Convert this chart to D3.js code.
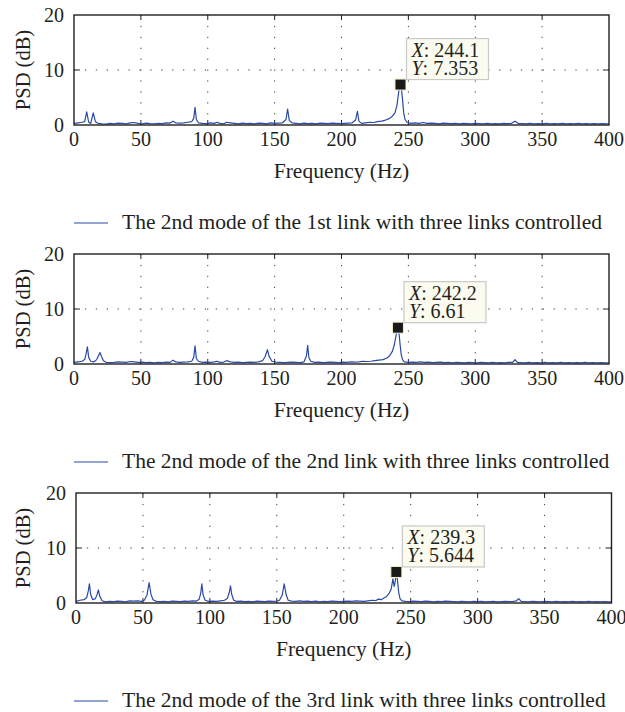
<!DOCTYPE html>
<html>
<head>
<meta charset="utf-8">
<script src="https://cdn.jsdelivr.net/npm/d3@7"></script>
<style>
  body { margin: 0; background: #fff; }
  text { font-family: "Liberation Serif", "DejaVu Serif", serif; fill: #231f20; }
</style>
</head>
<body>
<script>
// tick values shared by the three panels
const xTicks = [0, 50, 100, 150, 200, 250, 300, 350, 400]
const yTicks = [0, 10, 20]

// PSD of the 2nd mode, 1st link  [frequency Hz, PSD dB]
const psdLink1 = [[0,0.3],[3,0.4],[6,0.5],[8,0.6],[9.5,2.4],[11,0.5],[12.5,0.3],[14.4,2.2],[16,0.6],[18,0.3],[21,0.2],[24,0.15],[27,0.3],[30,0.2],[33,0.35],[36,0.3],[39,0.2],[42,0.4],[45,0.45],[48,0.3],[51,0.2],[54,0.35],[57,0.25],[60,0.2],[63,0.3],[66,0.25],[69,0.4],[72,0.35],[74,0.7],[76,0.4],[79,0.35],[82,0.4],[85,0.5],[88,0.6],[89.5,1.2],[90.5,3.2],[91.5,1.0],[93,0.4],[96,0.3],[99,0.25],[102,0.4],[105,0.3],[107,0.5],[109,0.3],[112,0.2],[114,0.5],[117,0.4],[120,0.3],[123,0.2],[126,0.35],[129,0.25],[132,0.3],[135,0.2],[138,0.35],[141,0.3],[144,0.2],[147,0.4],[150,0.3],[153,0.35],[156,0.4],[158.5,1.0],[159.7,2.9],[161,0.8],[163,0.4],[166,0.3],[169,0.2],[172,0.35],[175,0.25],[178,0.3],[181,0.2],[184,0.35],[187,0.3],[190,0.25],[193,0.35],[196,0.3],[199,0.25],[202,0.3],[205,0.35],[208,0.4],[210.5,0.9],[211.9,2.5],[213,0.7],[215,0.3],[218,0.4],[221,0.5],[224,0.45],[227,0.6],[230,0.7],[233,0.9],[236,1.2],[238,1.6],[240,2.2],[241.5,3.6],[242.5,5.5],[243.3,6.9],[244.1,7.353],[245,6.2],[245.8,4.2],[246.5,2.2],[247.5,1.0],[249,0.5],[252,0.3],[255,0.4],[258,0.3],[261,0.45],[264,0.3],[267,0.35],[270,0.3],[273,0.2],[276,0.35],[279,0.3],[282,0.25],[285,0.3],[288,0.2],[291,0.3],[294,0.25],[297,0.2],[300,0.3],[303,0.25],[306,0.2],[309,0.3],[312,0.2],[315,0.25],[318,0.2],[321,0.3],[324,0.25],[327,0.3],[329.7,0.7],[332,0.3],[335,0.25],[338,0.2],[341,0.3],[344,0.2],[347,0.25],[350,0.2],[353,0.3],[356,0.2],[359,0.25],[362,0.2],[365,0.3],[368,0.2],[371,0.25],[374,0.2],[377,0.3],[380,0.2],[383,0.25],[386,0.2],[389,0.25],[392,0.2],[395,0.25],[398,0.2],[400,0.2]]

// PSD of the 2nd mode, 2nd link
const psdLink2 = [[0,0.3],[3,0.4],[6,0.5],[8,0.8],[9,1.8],[10,3.1],[11,1.2],[12.5,0.5],[15,0.4],[17,0.8],[18.5,1.6],[19.4,2.1],[20.5,1.4],[22,0.6],[24,0.3],[27,0.25],[30,0.3],[33,0.4],[36,0.35],[39,0.3],[42,0.45],[45,0.4],[48,0.3],[51,0.35],[54,0.25],[57,0.3],[60,0.2],[63,0.3],[66,0.25],[69,0.35],[72,0.3],[74,0.7],[76,0.4],[79,0.3],[82,0.35],[85,0.4],[88,0.5],[89.5,1.2],[90.5,3.3],[91.5,1.0],[93,0.5],[96,0.3],[99,0.35],[102,0.3],[105,0.4],[107,0.5],[109,0.3],[112,0.35],[114,0.6],[117,0.4],[120,0.3],[123,0.35],[126,0.25],[129,0.3],[132,0.35],[135,0.3],[138,0.4],[141,0.6],[143,1.4],[144.6,2.6],[146,1.3],[148,0.5],[151,0.35],[154,0.3],[157,0.25],[160,0.3],[163,0.35],[166,0.3],[169,0.25],[172,0.4],[173.8,1.5],[174.7,3.4],[175.6,1.2],[177,0.5],[180,0.3],[183,0.35],[186,0.25],[189,0.3],[192,0.35],[195,0.3],[198,0.25],[201,0.35],[204,0.3],[207,0.4],[210,0.35],[213,0.4],[216,0.5],[219,0.45],[222,0.5],[225,0.6],[228,0.7],[231,0.8],[234,1.1],[236,1.5],[238,2.3],[239.5,3.5],[240.5,4.8],[241.4,6.0],[242.2,6.61],[243,5.6],[243.8,3.6],[244.6,1.8],[245.6,0.8],[247,0.4],[250,0.3],[253,0.35],[256,0.3],[259,0.4],[262,0.3],[265,0.35],[268,0.25],[271,0.3],[274,0.35],[277,0.25],[280,0.3],[283,0.2],[286,0.3],[289,0.25],[292,0.2],[295,0.3],[298,0.25],[301,0.2],[304,0.3],[307,0.25],[310,0.2],[313,0.3],[316,0.2],[319,0.25],[322,0.2],[325,0.3],[328,0.3],[329.7,0.8],[331.5,0.3],[334,0.25],[337,0.2],[340,0.3],[343,0.2],[346,0.25],[349,0.2],[352,0.3],[355,0.2],[358,0.25],[361,0.2],[364,0.3],[367,0.2],[370,0.25],[373,0.2],[376,0.25],[379,0.2],[382,0.3],[385,0.2],[388,0.25],[391,0.2],[394,0.25],[397,0.2],[400,0.2]]

// PSD of the 2nd mode, 3rd link
const psdLink3 = [[0,0.3],[3,0.5],[6,0.6],[8,1.0],[9.2,2.2],[10,3.5],[11,1.5],[12.5,0.6],[14.5,0.8],[15.8,1.6],[16.7,2.4],[17.8,1.2],[19.5,0.4],[22,0.2],[25,0.3],[28,0.25],[31,0.35],[34,0.3],[37,0.2],[40,0.4],[43,0.35],[46,0.4],[49,0.3],[51,0.5],[53,1.4],[54.6,3.7],[56,1.6],[57.5,0.6],[60,0.3],[63,0.25],[66,0.3],[69,0.2],[72,0.35],[75,0.3],[78,0.25],[81,0.35],[84,0.3],[87,0.4],[90,0.35],[92,0.7],[93.2,1.8],[94,3.5],[95,1.4],[96.5,0.5],[99,0.3],[102,0.35],[105,0.3],[108,0.4],[111,0.5],[113,0.8],[114.5,1.9],[115.4,3.1],[116.3,1.6],[117.8,0.5],[120,0.3],[123,0.35],[126,0.25],[129,0.3],[132,0.2],[135,0.35],[138,0.3],[141,0.25],[144,0.35],[147,0.3],[150,0.35],[152,0.5],[154,1.4],[155.5,3.5],[157,1.5],[158.5,0.5],[161,0.35],[164,0.3],[167,0.4],[170,0.3],[173,0.35],[176,0.25],[179,0.35],[182,0.2],[185,0.3],[188,0.25],[191,0.35],[194,0.3],[197,0.25],[200,0.3],[203,0.35],[206,0.3],[209,0.4],[212,0.35],[215,0.3],[218,0.4],[221,0.5],[224,0.45],[226,0.7],[228,0.6],[230,0.9],[232,1.2],[234,1.8],[235.5,2.6],[236.7,4.4],[237.7,3.0],[238.5,4.0],[239.3,5.644],[240.2,4.0],[241,2.0],[242,0.8],[243.5,0.4],[246,0.3],[249,0.25],[252,0.35],[255,0.3],[258,0.25],[261,0.35],[264,0.3],[267,0.2],[270,0.3],[273,0.25],[276,0.35],[279,0.3],[282,0.25],[285,0.2],[288,0.3],[291,0.25],[294,0.2],[297,0.3],[300,0.25],[303,0.3],[306,0.2],[309,0.25],[312,0.3],[315,0.2],[318,0.25],[321,0.3],[324,0.25],[327,0.3],[329,0.4],[330.7,0.8],[332.5,0.3],[335,0.25],[338,0.2],[341,0.3],[344,0.25],[347,0.2],[350,0.3],[353,0.25],[356,0.2],[359,0.3],[362,0.2],[365,0.25],[368,0.2],[371,0.3],[374,0.2],[377,0.25],[380,0.2],[383,0.3],[386,0.2],[389,0.25],[392,0.2],[395,0.25],[398,0.2],[400,0.2]]

// data tips (peak read-outs)
const tipX = [244.1, 242.2, 239.3]
const tipY = [7.353, 6.61, 5.644]
const tipXLabels = ['244.1', '242.2', '239.3']
const tipYLabels = ['7.353', '6.61', '5.644']

const legendLabels = [
    'The 2nd mode of the 1st link with three links controlled',
    'The 2nd mode of the 2nd link with three links controlled',
    'The 2nd mode of the 3rd link with three links controlled'
]

const series = [psdLink1, psdLink2, psdLink3]

// panel placement
const w = 625
const h = 712
const ph = 110
const panels = [
    { left: 74, right: 609, top: 15 },
    { left: 74, right: 609, top: 254 },
    { left: 76, right: 611.5, top: 493 }
]
const lineColor = '#2a4aa6'

const svg = d3.select('body')
    .append('svg')
    .attr('width', w)
    .attr('height', h)

panels.forEach((p, i) => {
    const x = d3.scaleLinear().domain([0, 400]).range([p.left, p.right])
    const y = d3.scaleLinear().domain([0, 20]).range([p.top + ph, p.top])
    const g = svg.append('g')

    // clip for the trace
    g.append('clipPath')
        .attr('id', 'clip' + i)
        .append('rect')
        .attr('x', p.left)
        .attr('y', p.top)
        .attr('width', p.right - p.left)
        .attr('height', ph)

    // dotted grid
    g.selectAll('.vgrid')
        .data(xTicks.slice(1, -1))
        .enter()
        .append('line')
        .attr('x1', d => x(d)).attr('x2', d => x(d))
        .attr('y1', p.top).attr('y2', p.top + ph)
        .attr('stroke', '#444')
        .attr('stroke-width', 1)
        .attr('stroke-dasharray', '1.3,9.6')
    g.selectAll('.hgrid')
        .data(yTicks.slice(1, -1))
        .enter()
        .append('line')
        .attr('x1', p.left).attr('x2', p.right)
        .attr('y1', d => y(d)).attr('y2', d => y(d))
        .attr('stroke', '#444')
        .attr('stroke-width', 1)
        .attr('stroke-dasharray', '1.3,9.6')

    // inside ticks, MATLAB style
    xTicks.slice(1, -1).forEach(t => {
        g.append('line').attr('x1', x(t)).attr('x2', x(t))
            .attr('y1', p.top).attr('y2', p.top + 5)
            .attr('stroke', '#222').attr('stroke-width', 1)
        g.append('line').attr('x1', x(t)).attr('x2', x(t))
            .attr('y1', p.top + ph).attr('y2', p.top + ph - 5)
            .attr('stroke', '#222').attr('stroke-width', 1)
    })
    yTicks.slice(1, -1).forEach(t => {
        g.append('line').attr('x1', p.left).attr('x2', p.left + 6)
            .attr('y1', y(t)).attr('y2', y(t))
            .attr('stroke', '#222').attr('stroke-width', 1)
        g.append('line').attr('x1', p.right).attr('x2', p.right - 6)
            .attr('y1', y(t)).attr('y2', y(t))
            .attr('stroke', '#222').attr('stroke-width', 1)
    })

    // PSD trace
    const line = d3.line()
        .x(d => x(d[0]))
        .y(d => y(d[1]))
    g.append('path')
        .datum(series[i])
        .attr('clip-path', 'url(#clip' + i + ')')
        .attr('fill', 'none')
        .attr('stroke', lineColor)
        .attr('stroke-width', 1.2)
        .attr('stroke-linejoin', 'round')
        .attr('d', line)

    // axes box
    g.append('rect')
        .attr('x', p.left)
        .attr('y', p.top)
        .attr('width', p.right - p.left)
        .attr('height', ph)
        .attr('fill', 'none')
        .attr('stroke', '#231f20')
        .attr('stroke-width', 1.4)

    // tick labels
    g.selectAll('.xlab')
        .data(xTicks)
        .enter()
        .append('text')
        .attr('x', d => x(d))
        .attr('y', p.top + 131)
        .attr('text-anchor', 'middle')
        .style('font-size', '20px')
        .text(d => d)
    g.selectAll('.ylab')
        .data(yTicks)
        .enter()
        .append('text')
        .attr('x', p.left - 10)
        .attr('y', d => y(d) + 7)
        .attr('text-anchor', 'end')
        .style('font-size', '20px')
        .text(d => d)

    // axis titles
    g.append('text')
        .attr('x', (p.left + p.right) / 2)
        .attr('y', p.top + 163)
        .attr('text-anchor', 'middle')
        .style('font-size', '21.5px')
        .text('Frequency (Hz)')
    g.append('text')
        .attr('transform', `translate(30,${p.top + ph / 2}) rotate(-90)`)
        .attr('text-anchor', 'middle')
        .style('font-size', '20.5px')
        .text('PSD (dB)')

    // data tip marker and box
    const mx = x(tipX[i])
    const my = y(tipY[i])
    g.append('rect')
        .attr('x', mx - 5.5).attr('y', my - 5.5)
        .attr('width', 11).attr('height', 11)
        .attr('fill', '#1a1a1a')
        .attr('stroke', '#f4f0c8')
        .attr('stroke-width', 1)
    const bx = mx + 6
    const by = my - 46
    g.append('rect')
        .attr('x', bx).attr('y', by)
        .attr('width', 82).attr('height', 41)
        .attr('fill', '#fbfbef')
        .attr('stroke', '#c9c9c9')
        .attr('stroke-width', 1.2)
    const tip = g.append('text')
        .style('font-size', '20px')
    const l1 = tip.append('tspan').attr('x', bx + 5).attr('y', by + 18)
    l1.append('tspan').style('font-style', 'italic').text('X')
    l1.append('tspan').text(': ' + tipXLabels[i])
    const l2 = tip.append('tspan').attr('x', bx + 5).attr('y', by + 36)
    l2.append('tspan').style('font-style', 'italic').text('Y')
    l2.append('tspan').text(': ' + tipYLabels[i])

    // legend
    const ly = p.top + 208
    g.append('line')
        .attr('x1', 74).attr('x2', 108)
        .attr('y1', ly).attr('y2', ly)
        .attr('stroke', lineColor)
        .attr('stroke-width', 1.2)
    g.append('text')
        .attr('x', 122)
        .attr('y', ly + 6)
        .style('font-size', '21.5px')
        .text(legendLabels[i])
})
</script>
</body>
</html>
